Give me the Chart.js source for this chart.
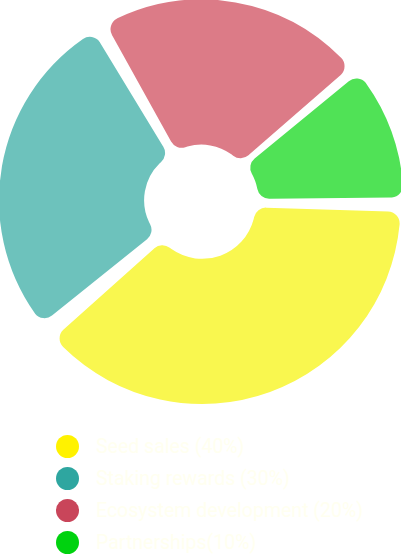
<!DOCTYPE html>
<html>
<head>
<meta charset="utf-8">
<script src="https://cdn.jsdelivr.net/npm/chart.js@4/dist/chart.umd.min.js"></script>
<style>
  html, body { margin: 0; padding: 0; background: #ffffff; }
  body { width: 401px; height: 555px; position: relative; overflow: hidden; font-family: Roboto, "Noto Sans", sans-serif; }
  #wrap { position: absolute; left: -6px; top: -6px; width: 413px; height: 414px; }
  #legend { position: absolute; left: 56px; top: 430px; margin: 0; padding: 0; list-style: none; }
  #legend li { height: 32px; display: flex; align-items: center; }
  #legend .dot { width: 23px; height: 23px; border-radius: 50%; margin-right: 17px; flex: none; }
  #legend .txt { font-size: 19.5px; color: #fffff0; white-space: nowrap; }
</style>
</head>
<body>
<div id="wrap"><canvas id="c"></canvas></div>
<ul id="legend"></ul>
<script>
const categories = ["Seed sales (40%)", "Staking rewards (30%)", "Ecosystem development (20%)", "Partnerships(10%)"];
const values = [35, 25, 20, 10];
const sliceColors = ["#f9f74f", "#6dc2bc", "#dc7b87", "#50e256"];
const legendColors = ["#fff200", "#2ea6a0", "#c9455a", "#00d20f"];

new Chart(document.getElementById("c"), {
  type: "doughnut",
  data: {
    labels: categories,
    datasets: [{
      data: values,
      backgroundColor: sliceColors,
      borderWidth: 0,
      borderRadius: 12,
      spacing: 6,
      offset: 20
    }]
  },
  options: {
    responsive: true,
    maintainAspectRatio: false,
    animation: false,
    rotation: 90,
    cutout: "25%",
    plugins: { legend: { display: false }, tooltip: { enabled: false } }
  }
});

const ul = document.getElementById("legend");
categories.forEach((c, i) => {
  const li = document.createElement("li");
  const d = document.createElement("span");
  d.className = "dot";
  d.style.background = legendColors[i];
  const t = document.createElement("span");
  t.className = "txt";
  t.textContent = c;
  li.appendChild(d); li.appendChild(t);
  ul.appendChild(li);
});
</script>
</body>
</html>
